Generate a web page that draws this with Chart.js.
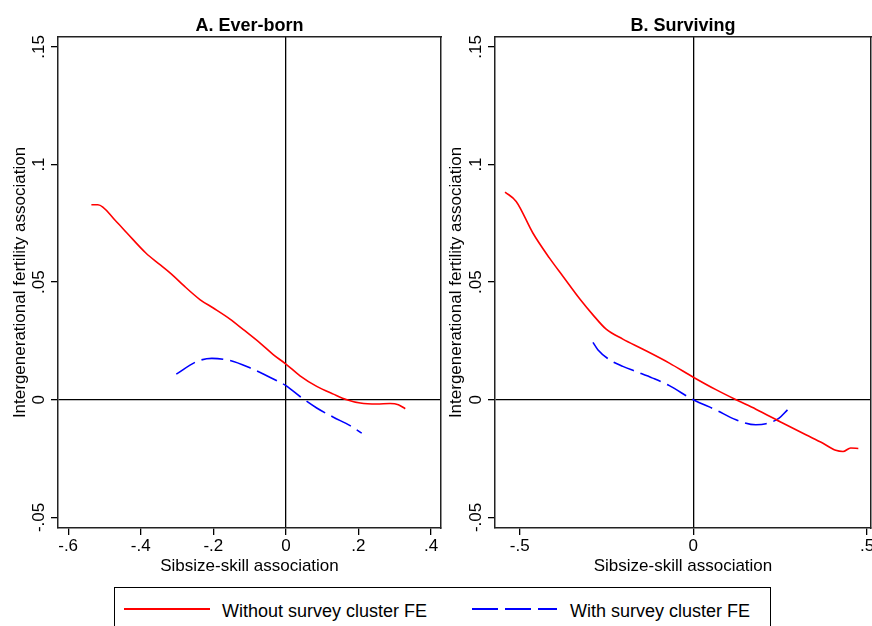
<!DOCTYPE html>
<html>
<head>
<meta charset="utf-8">
<title>Intergenerational fertility association</title>
<script src="https://cdn.jsdelivr.net/npm/chart.js@4.4.0/dist/chart.umd.min.js"></script>
<style>
    html, body { margin: 0; padding: 0; background: #fff; overflow: hidden; }
    body { width: 872px; height: 626px; position: relative; font-family: "Liberation Sans", Arial, sans-serif; }
    canvas { position: absolute; top: 0; }
    #chartA { left: 0; }
    #chartB { left: 436px; }
    #legend {
        position: absolute; left: 114px; top: 587px;
        width: 655px; height: 60px;
        border: 1.5px solid #000; background: #fff;
    }
    #legend svg, #legend span { position: absolute; }
    #legend span { font-size: 18px; line-height: 20px; color: #000; white-space: nowrap; }
</style>
</head>
<body>

<canvas id="chartA" width="445" height="586"></canvas>
<canvas id="chartB" width="450" height="586"></canvas>

<div id="legend">
    <svg style="left:8px; top:11px" width="90" height="20">
        <line x1="1" y1="10" x2="87" y2="10" stroke="#ff0000" stroke-width="2"></line>
    </svg>
    <span style="left:107px; top:13px">Without survey cluster FE</span>
    <svg style="left:356px; top:11px" width="90" height="20">
        <line x1="1" y1="10" x2="86" y2="10" stroke="#0000ff" stroke-width="2" stroke-dasharray="26 7"></line>
    </svg>
    <span style="left:455px; top:13px">With survey cluster FE</span>
</div>

<script>
// =========================
// DATA
// =========================
const yTicks = [-0.05, 0, 0.05, 0.1, 0.15];
const yTickLabels = ["-.05", "0", ".05", ".1", ".15"];

const xTicksA = [-0.6, -0.4, -0.2, 0, 0.2, 0.4];
const xTickLabelsA = ["-.6", "-.4", "-.2", "0", ".2", ".4"];
const xTicksB = [-0.5, 0, 0.5];
const xTickLabelsB = ["-.5", "0", ".5"];

const seriesLabels = ["Without survey cluster FE", "With survey cluster FE"];

// A. Ever-born
const everNoFE_x = [-0.536, -0.518, -0.470, -0.438, -0.386, -0.346, -0.310, -0.282, -0.236, -0.200,
                    -0.154, -0.117, -0.071, -0.034, 0.000, 0.039, 0.085, 0.131, 0.168, 0.205,
                    0.251, 0.287, 0.310, 0.329];
const everNoFE_y = [0.0829, 0.0829, 0.0762, 0.0709, 0.0624, 0.0573, 0.0527, 0.0486, 0.0425, 0.0390,
                    0.0343, 0.0298, 0.0241, 0.0191, 0.0152, 0.0102, 0.0057, 0.0024, 0.0000, -0.0014,
                    -0.0018, -0.0016, -0.0021, -0.0038];
const everFE_x = [-0.302, -0.245, -0.204, -0.154, -0.098, -0.043, 0.000, 0.039, 0.085, 0.131, 0.177, 0.209];
const everFE_y = [0.0109, 0.0163, 0.0176, 0.0167, 0.0135, 0.0095, 0.0060, 0.0014, -0.0035, -0.0074, -0.0110, -0.0142];

// B. Surviving
const survNoFE_x = [-0.542, -0.510, -0.462, -0.414, -0.375, -0.325, -0.289, -0.251, -0.203, -0.145,
                    -0.069, 0.000, 0.065, 0.123, 0.180, 0.257, 0.324, 0.372, 0.410, 0.431,
                    0.453, 0.475];
const survNoFE_y = [0.0883, 0.0843, 0.0709, 0.0602, 0.0524, 0.0425, 0.0361, 0.0300, 0.0258, 0.0215,
                    0.0156, 0.0096, 0.0043, 0.0000, -0.0040, -0.0099, -0.0149, -0.0184, -0.0215, -0.0220,
                    -0.0205, -0.0207];
const survFE_x = [-0.289, -0.275, -0.241, -0.203, -0.165, -0.117, -0.069, 0.000, 0.065, 0.123,
                  0.180, 0.209, 0.247, 0.271];
const survFE_y = [0.0244, 0.0213, 0.0170, 0.0142, 0.0120, 0.0092, 0.0060, 0.0000, -0.0043, -0.0085,
                  -0.0106, -0.0102, -0.0078, -0.0043];

const Y_MIN = -0.0545, Y_MAX = 0.1542;

// =========================
// HELPERS
// =========================
function toPoints(xs, ys) {
    return xs.map((x, i) => ({ x: x, y: ys[i] }));
}

function zeroLine(ctx) {
    return ctx.tick && Math.abs(ctx.tick.value) < 1e-9 ? "#000" : "rgba(0,0,0,0)";
}

const tickFont = { family: "'Liberation Sans', Arial, sans-serif", size: 17 };
const frame = { color: "#222", width: 1.5 };

function makePanel(id, opts) {
    const ctx = document.getElementById(id).getContext("2d");

    return new Chart(ctx, {
        type: "line",
        data: {
            datasets: [
                {
                    label: seriesLabels[0],
                    data: opts.noFE,
                    borderColor: "#ff0000",
                    borderWidth: 1.6,
                    pointRadius: 0,
                    cubicInterpolationMode: "monotone",
                    xAxisID: "x", yAxisID: "y"
                },
                {
                    label: seriesLabels[1],
                    data: opts.fe,
                    borderColor: "#0000ff",
                    borderWidth: 1.6,
                    borderDash: [22, 7],
                    pointRadius: 0,
                    cubicInterpolationMode: "monotone",
                    xAxisID: "x", yAxisID: "y"
                }
            ]
        },
        options: {
            responsive: false,
            animation: false,
            layout: { padding: 0 },
            plugins: {
                legend: { display: false },
                title: { display: false },
                tooltip: { enabled: false }
            },
            scales: {
                x: {
                    type: "linear", position: "bottom",
                    min: opts.xMin, max: opts.xMax,
                    afterBuildTicks: ax => { ax.ticks = opts.xTicks.map(v => ({ value: v })); },
                    afterFit: ax => { ax.height = 58; },
                    ticks: {
                        color: "#000", font: tickFont, padding: 1,
                        maxRotation: 0, autoSkip: false,
                        callback: v => opts.xLabels[opts.xTicks.indexOf(v)]
                    },
                    grid: { color: zeroLine, tickColor: "#000", lineWidth: 1.3, tickLength: 7 },
                    border: frame,
                    title: {
                        display: true, text: "Sibsize-skill association",
                        color: "#000", font: tickFont, padding: { top: 0, bottom: 9 }
                    }
                },
                y: {
                    type: "linear", position: "left",
                    min: Y_MIN, max: Y_MAX,
                    afterBuildTicks: ax => { ax.ticks = yTicks.map(v => ({ value: v })); },
                    afterFit: ax => { ax.width = opts.leftW; },
                    ticks: {
                        color: "#000", font: tickFont, padding: -3,
                        minRotation: 90, maxRotation: 90, crossAlign: "center",
                        callback: v => yTickLabels[yTicks.indexOf(v)]
                    },
                    grid: { color: zeroLine, tickColor: "#000", lineWidth: 1.3, tickLength: 7 },
                    border: frame,
                    title: {
                        display: true, text: "Intergenerational fertility association",
                        color: "#000", font: tickFont, padding: { top: 10, bottom: 0 }
                    }
                },
                xTop: {
                    type: "linear", position: "top",
                    min: opts.xMin, max: opts.xMax,
                    afterFit: ax => { ax.height = 37; },
                    ticks: { display: false },
                    grid: { color: "rgba(0,0,0,0)", drawTicks: false },
                    border: frame,
                    title: {
                        display: true, text: opts.title, color: "#000",
                        font: { family: "'Liberation Sans', Arial, sans-serif", size: 18, weight: "bold" },
                        padding: { top: 15, bottom: 0 }
                    }
                },
                yRight: {
                    type: "linear", position: "right",
                    min: Y_MIN, max: Y_MAX,
                    afterFit: ax => { ax.width = opts.rightW; },
                    ticks: { display: false },
                    grid: { color: "rgba(0,0,0,0)", drawTicks: false },
                    border: frame
                }
            }
        }
    });
}

// =========================
// RENDER PANELS
// =========================
makePanel("chartA", {
    title: "A. Ever-born",
    noFE: toPoints(everNoFE_x, everNoFE_y),
    fe: toPoints(everFE_x, everFE_y),
    xMin: -0.628, xMax: 0.4275,
    xTicks: xTicksA, xLabels: xTickLabelsA,
    leftW: 58, rightW: 4
});

makePanel("chartB", {
    title: "B. Surviving",
    noFE: toPoints(survNoFE_x, survNoFE_y),
    fe: toPoints(survFE_x, survFE_y),
    xMin: -0.571, xMax: 0.5115,
    xTicks: xTicksB, xLabels: xTickLabelsB,
    leftW: 59, rightW: 15
});
</script>
</body>
</html>
